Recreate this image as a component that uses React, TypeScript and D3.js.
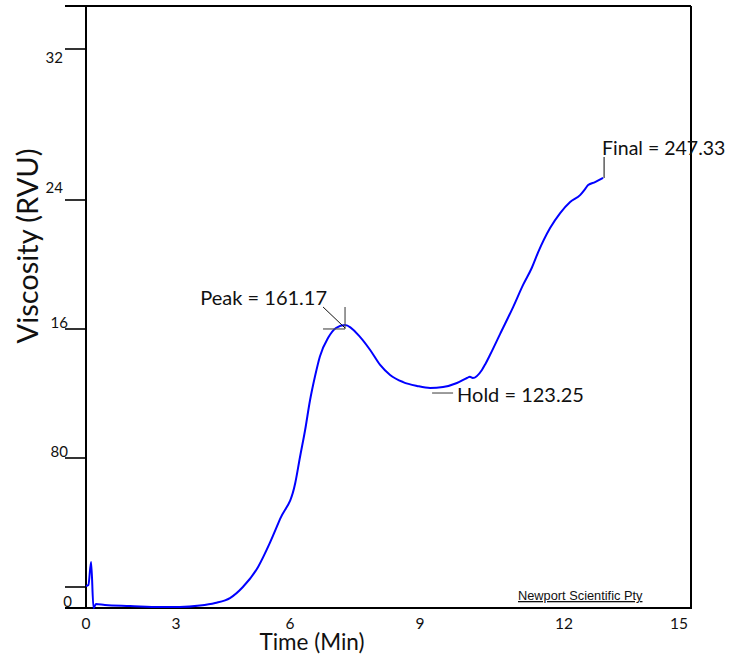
import * as d3 from "d3";

// RVA pasting curve
const timeMin = [
  0, 0.08, 0.17, 0.25, 0.33, 0.63, 1.47, 2.47, 3.1, 3.63, 4.03, 4.42, 4.76,
  5.16, 5.47, 5.74, 6.12, 6.23, 6.35, 6.46, 6.58, 6.69, 6.88, 7.06, 7.27,
  7.62, 7.85, 8.08, 8.31, 8.61, 8.93, 9.21, 9.48, 9.77, 9.98, 10.04, 10.1,
  10.29, 10.36, 10.46, 10.67, 10.94, 11.15, 11.33, 11.46, 11.71, 11.92, 12.16,
  12.42, 12.55, 12.63, 12.81, 13.02,
];
const viscosityRVU = [
  11.7, 12.3, 24.5, 0, 2.1, 1.6, 1.1, 0.5, 0.5, 1.3, 2.7, 5.3, 11.2, 21.9,
  34.7, 47.5, 66.5, 80.5, 97.5, 115.5, 131.0, 143.0, 154.5, 160.6, 162.5,
  155.0, 147.0, 137.7, 131.5, 127.1, 124.7, 123.4, 124.0, 126.5, 129.6, 130.4,
  129.6, 134.6, 138.2, 144.0, 157.0, 173.6, 187.5, 198.0, 207.5, 222.6, 231.9,
  238.8, 242.6, 245.8, 247.9, 249.5, 251.7,
];

const xTickValues = [0, 3, 6, 9, 12, 15];
const yTickValues = [0, 11.2, 80, 160, 240, 320];
const yTickLabels = ["0", "", "80", "16", "24", "32"];

const peakLabel = "Peak = 161.17";
const holdLabel = "Hold = 123.25";
const finalLabel = "Final = 247.33";

const FONT = "Lato, 'Open Sans', sans-serif";

export default function App() {
  const width = 730;
  const height = 659;
  const top = 6;
  const bottom = 608;
  const left = 86;
  const right = 691;

  // the original axes are not evenly spaced, so both scales are piecewise
  const x = d3
    .scaleLinear()
    .domain(xTickValues)
    .range([86, 176, 290, 420, 564, 679]);
  const y = d3
    .scaleLinear()
    .domain(yTickValues)
    .range([608, 587, 458, 329, 200, 49]);

  const pts = timeMin.map((t, i) => [t, viscosityRVU[i]] as [number, number]);
  const line = d3
    .line<[number, number]>()
    .x((d) => x(d[0]))
    .y((d) => y(d[1]))
    .curve(d3.curveMonotoneX);

  // peak before 9 min, hold = trough after the peak, final = last reading
  const nBeforeNine = timeMin.filter((t) => t < 9).length;
  const peakI = d3.maxIndex(viscosityRVU.slice(0, nBeforeNine));
  const nBeforeEleven = timeMin.filter((t) => t < 11).length;
  const holdI = peakI + d3.minIndex(viscosityRVU.slice(peakI, nBeforeEleven));
  const finalI = viscosityRVU.length - 1;
  const px = x(timeMin[peakI]);
  const py = y(viscosityRVU[peakI]);
  const hx = x(timeMin[holdI]);
  const hy = y(viscosityRVU[holdI]);
  const fx = x(timeMin[finalI]);
  const fy = y(viscosityRVU[finalI]);

  const labelRight = (lab: string) =>
    lab === "0" ? 72 : lab === "16" || lab === "80" ? 68 : 63;

  return (
    <svg
      width={width}
      height={height}
      style={{ position: "absolute", left: 0, top: 0, background: "#fff" }}
      fontFamily={FONT}
    >
      {/* frame */}
      <g stroke="#000" strokeWidth={2} fill="none">
        <line x1={65} x2={right} y1={top} y2={top} />
        <line x1={65} x2={right} y1={bottom} y2={bottom} />
        <line x1={left} x2={left} y1={top} y2={bottom} />
        <line x1={right} x2={right} y1={top} y2={bottom + 1} />
      </g>

      {/* y ticks */}
      <g>
        {yTickValues.map((v, i) => {
          const ty = y(v);
          const lab = yTickLabels[i];
          const below = lab === "32";
          return (
            <g key={i}>
              <line x1={65} x2={left} y1={ty} y2={ty} stroke="#000" strokeWidth={1.6} />
              {lab && (
                <text
                  x={labelRight(lab)}
                  y={below ? ty + 14 : lab === "24" ? ty - 7 : ty - 1}
                  textAnchor="end"
                  fontSize={15}
                  fill="#111"
                >
                  {lab}
                </text>
              )}
            </g>
          );
        })}
      </g>

      {/* x tick labels */}
      <g>
        {xTickValues.map((v) => (
          <text key={v} x={x(v)} y={629} textAnchor="middle" fontSize={15.5} fill="#111">
            {v}
          </text>
        ))}
      </g>

      <text
        transform="translate(38,246) rotate(-90)"
        textAnchor="middle"
        fontSize={29}
        fill="#111"
      >
        Viscosity (RVU)
      </text>
      <text x={312} y={650} textAnchor="middle" fontSize={22.5} fill="#111">
        Time (Min)
      </text>

      <text
        x={518}
        y={600}
        fontFamily="'Liberation Sans', Arial, sans-serif"
        fontSize={12.8}
        textDecoration="underline"
        fill="#111"
      >
        Newport Scientific Pty
      </text>

      {/* curve */}
      <path d={line(pts) ?? ""} fill="none" stroke="#0000ff" strokeWidth={2} />

      {/* peak annotation */}
      <g>
        <line x1={px - 22} x2={px} y1={py + 4} y2={py + 4} stroke="#555" strokeWidth={1.2} />
        <line x1={px} x2={px} y1={py - 18} y2={py + 4} stroke="#555" strokeWidth={1.2} />
        <line x1={px - 22} x2={px} y1={py - 18} y2={py + 3} stroke="#111" strokeWidth={1} />
        <text x={px - 18} y={py - 20} textAnchor="end" fontSize={20} fill="#111">
          {peakLabel}
        </text>
      </g>

      {/* hold annotation */}
      <g>
        <line x1={hx + 2} x2={hx + 23} y1={hy + 5} y2={hy + 5} stroke="#666" strokeWidth={1.3} />
        <text x={hx + 27} y={hy + 14} fontSize={20} fill="#111">
          {holdLabel}
        </text>
      </g>

      {/* final annotation */}
      <g>
        <line x1={fx + 1} x2={fx + 1} y1={fy} y2={fy - 21} stroke="#333" strokeWidth={1.2} />
        <text x={fx - 1} y={fy - 23} fontSize={19.5} fill="#111">
          {finalLabel}
        </text>
      </g>
    </svg>
  );
}
